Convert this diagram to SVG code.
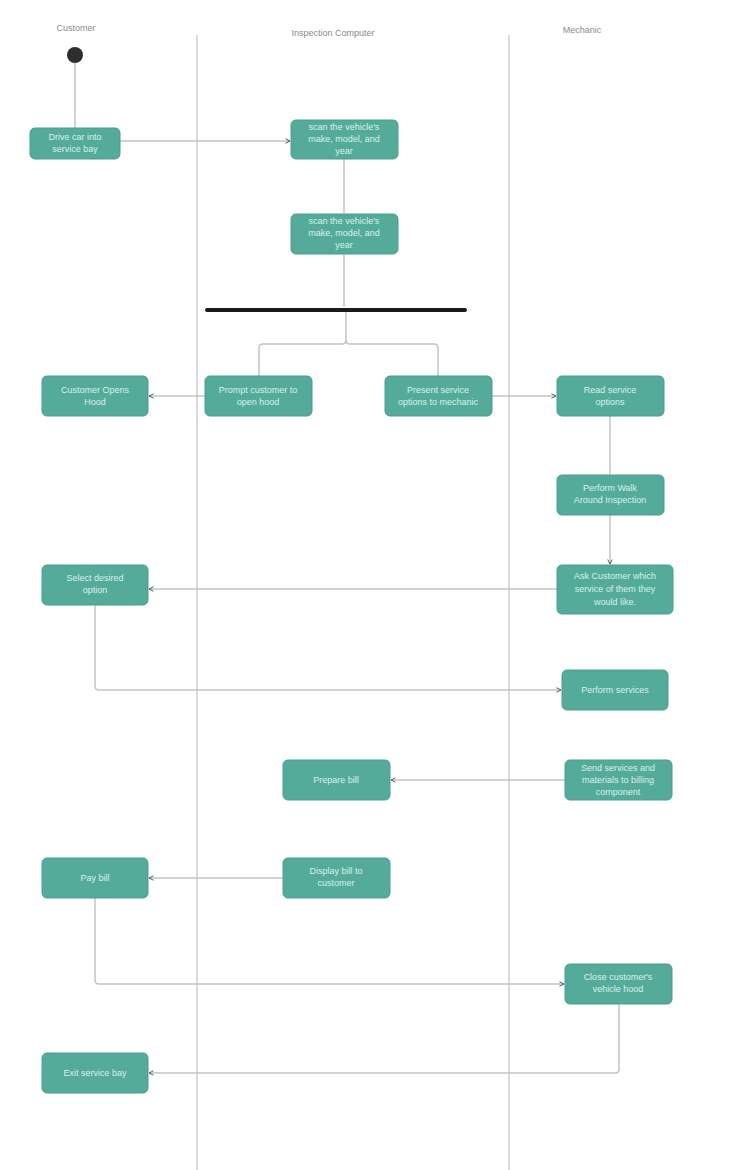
<svg xmlns="http://www.w3.org/2000/svg" width="737" height="1170" viewBox="0 0 737 1170">
<style>
.lane{stroke:#cfcfcf;stroke-width:1.5;fill:none}
.hdr{font-family:"Liberation Sans",Arial,sans-serif;font-size:9px;fill:#8a8a8a;text-anchor:middle}
.box{fill:#55ab99;stroke:#4a9e8c;stroke-width:1}
.lbl{font-family:"Liberation Sans",Arial,sans-serif;font-size:9px;fill:#d6f1ea;text-anchor:middle}
.edge{stroke:#c4c4c4;stroke-width:1.5;fill:none}
</style>
<defs>
<marker id="arr" viewBox="0 0 8 8" refX="7" refY="4" markerWidth="6" markerHeight="6" orient="auto-start-reverse" markerUnits="userSpaceOnUse">
<path d="M1,1 L7,4 L1,7" fill="none" stroke="#555" stroke-width="1.3"/>
</marker>
</defs>
<rect width="737" height="1170" fill="#ffffff"/>
<g id="lanes">
<line class="lane" x1="197" y1="35" x2="197" y2="1170"/>
<line class="lane" x1="509" y1="35" x2="509" y2="1170"/>
<text class="hdr" x="76" y="31">Customer</text>
<text class="hdr" x="333" y="36">Inspection Computer</text>
<text class="hdr" x="582" y="33">Mechanic</text>
</g>
<g id="connectors">
<path class="edge" d="M75,63 L75,128"/>
<path class="edge" d="M120,141 L290,141" marker-end="url(#arr)"/>
<path class="edge" d="M344,159 L344,213"/>
<path class="edge" d="M344,254 L344,307"/>
<path class="edge" d="M346,312 L346,340 Q346,344 342,344 L263,344 Q259,344 259,348 L259,376"/>
<path class="edge" d="M346,340 Q346,344 350,344 L434,344 Q438,344 438,348 L438,376"/>
<path class="edge" d="M205,396 L149,396" marker-end="url(#arr)"/>
<path class="edge" d="M492,396 L556,396" marker-end="url(#arr)"/>
<path class="edge" d="M610,416 L610,475"/>
<path class="edge" d="M610,515 L610,564" marker-end="url(#arr)"/>
<path class="edge" d="M557,589 L149,589" marker-end="url(#arr)"/>
<path class="edge" d="M95,605 L95,686 Q95,690 99,690 L561,690" marker-end="url(#arr)"/>
<path class="edge" d="M565,780 L391,780" marker-end="url(#arr)"/>
<path class="edge" d="M283,878 L149,878" marker-end="url(#arr)"/>
<path class="edge" d="M95,898 L95,980 Q95,984 99,984 L564,984" marker-end="url(#arr)"/>
<path class="edge" d="M619,1004 L619,1069 Q619,1073 615,1073 L149,1073" marker-end="url(#arr)"/>
</g>
<g id="start"><circle cx="75" cy="55" r="8" fill="#2e2e2e"/></g>
<g id="n1"><rect class="box" x="30" y="128" width="90" height="31" rx="5"/><text class="lbl" x="75" y="140">Drive car into</text><text class="lbl" x="75" y="152">service bay</text></g>
<g id="n2"><rect class="box" x="291" y="120" width="107" height="39" rx="5"/><text class="lbl" x="344" y="130">scan the vehicle's</text><text class="lbl" x="344" y="142">make, model, and</text><text class="lbl" x="344" y="154">year</text></g>
<g id="n3"><rect class="box" x="291" y="214" width="107" height="40" rx="5"/><text class="lbl" x="344" y="224">scan the vehicle's</text><text class="lbl" x="344" y="236">make, model, and</text><text class="lbl" x="344" y="248">year</text></g>
<g id="fork"><rect x="205" y="308" width="262" height="4" rx="2" fill="#1a1a1a"/></g>
<g id="n5"><rect class="box" x="42" y="376" width="106" height="40" rx="5"/><text class="lbl" x="95" y="393">Customer Opens</text><text class="lbl" x="95" y="405">Hood</text></g>
<g id="n6"><rect class="box" x="205" y="376" width="107" height="40" rx="5"/><text class="lbl" x="258" y="393">Prompt customer to</text><text class="lbl" x="258" y="405">open hood</text></g>
<g id="n7"><rect class="box" x="385" y="376" width="107" height="40" rx="5"/><text class="lbl" x="438" y="393">Present service</text><text class="lbl" x="438" y="405">options to mechanic</text></g>
<g id="n8"><rect class="box" x="557" y="376" width="107" height="40" rx="5"/><text class="lbl" x="610" y="393">Read service</text><text class="lbl" x="610" y="405">options</text></g>
<g id="n9"><rect class="box" x="557" y="475" width="107" height="40" rx="5"/><text class="lbl" x="610" y="491">Perform Walk</text><text class="lbl" x="610" y="503">Around Inspection</text></g>
<g id="n10"><rect class="box" x="557" y="565" width="116" height="49" rx="5"/><text class="lbl" x="615" y="579">Ask Customer which</text><text class="lbl" x="615" y="592">service of them they</text><text class="lbl" x="615" y="605">would like.</text></g>
<g id="n11"><rect class="box" x="42" y="565" width="106" height="40" rx="5"/><text class="lbl" x="95" y="581">Select desired</text><text class="lbl" x="95" y="593">option</text></g>
<g id="n12"><rect class="box" x="562" y="670" width="106" height="40" rx="5"/><text class="lbl" x="615" y="693">Perform services</text></g>
<g id="n13"><rect class="box" x="283" y="760" width="107" height="40" rx="5"/><text class="lbl" x="336" y="783">Prepare bill</text></g>
<g id="n14"><rect class="box" x="565" y="760" width="107" height="40" rx="5"/><text class="lbl" x="618" y="771">Send services and</text><text class="lbl" x="618" y="783">materials to billing</text><text class="lbl" x="618" y="795">component</text></g>
<g id="n15"><rect class="box" x="42" y="858" width="106" height="40" rx="5"/><text class="lbl" x="95" y="881">Pay bill</text></g>
<g id="n16"><rect class="box" x="283" y="858" width="107" height="40" rx="5"/><text class="lbl" x="336" y="874">Display bill to</text><text class="lbl" x="336" y="886">customer</text></g>
<g id="n17"><rect class="box" x="565" y="964" width="107" height="40" rx="5"/><text class="lbl" x="618" y="980">Close customer's</text><text class="lbl" x="618" y="992">vehicle hood</text></g>
<g id="n18"><rect class="box" x="42" y="1053" width="106" height="40" rx="5"/><text class="lbl" x="95" y="1076">Exit service bay</text></g>
</svg>
